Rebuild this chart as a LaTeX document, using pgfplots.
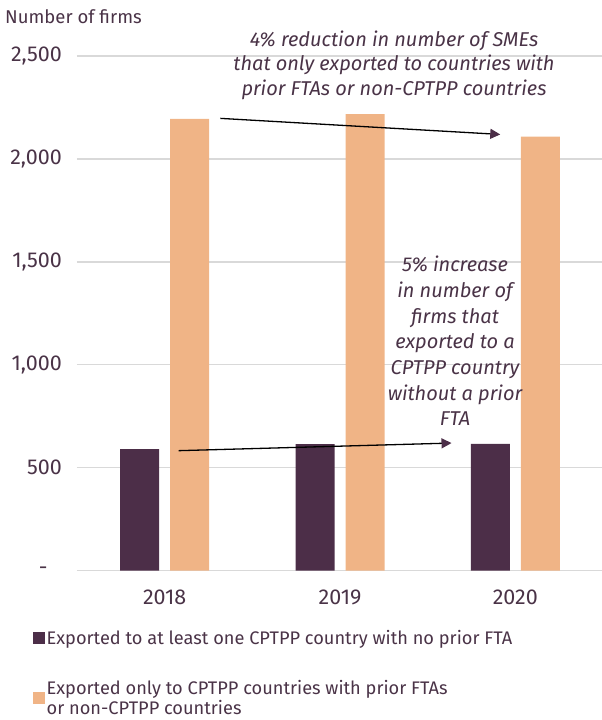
\documentclass[border=0pt]{standalone}
\usepackage{fontspec}
\setmainfont{Fira Sans}
\usepackage{pgfplots}
\pgfplotsset{compat=1.18}
\usetikzlibrary{arrows.meta}
\definecolor{dark}{HTML}{4C2E48}
\definecolor{peach}{HTML}{F0B486}
\definecolor{txt}{HTML}{4A3347}
\definecolor{gridc}{HTML}{D9D9D9}
\begin{document}
\begin{tikzpicture}[x=1pt,y=1pt]
\path[use as bounding box] (0,0) rectangle (602,720);
\begin{axis}[
  at={(77pt,149.3pt)}, anchor=south west,
  scale only axis, width=526pt, height=514.7pt,
  xmin=-0.5, xmax=2.5, ymin=0, ymax=2500,
  axis line style={draw=none},
  ymajorgrids, grid style={gridc, line width=1.3pt},
  ytick={0,500,1000,1500,2000,2500},
  yticklabels={{\makebox[23pt][l]{-}},500,{1,000},{1,500},{2,000},{2,500}},
  xtick={0,1,2}, xticklabels={2018,2019,2020},
  major tick length=0pt,
  tick label style={font=\fontsize{21.5}{24}\selectfont, text=txt},
  yticklabel style={inner sep=0pt, xshift=-15pt},
  xticklabel style={inner sep=0pt, yshift=-19pt},
  /pgf/number format/assume math mode=true,
  ybar=11pt, bar width=39pt,
  legend style={at={(-0.0894,-0.1085)}, anchor=north west, draw=none, fill=none,
    font=\fontsize{18.2}{20}\selectfont, text=txt, legend columns=1,
    row sep=31pt, nodes={align=left, inner sep=1.5pt, font=\fontsize{18.2}{20}\selectfont}},
  legend cell align=left,
  legend image code/.code={\fill[#1] (0pt,-6pt) rectangle (12pt,6pt);},
]
\addplot[fill=dark, draw=none] coordinates {(0,590) (1,615) (2,616)};
\addplot[fill=peach, draw=none] coordinates {(0,2194) (1,2218) (2,2108)};
\legend{Exported to at least one CPTPP country with no prior FTA, {Exported only to CPTPP countries with prior FTAs\\or non-CPTPP countries}}
\draw[black, line width=1.3pt, -{Triangle[length=10pt,width=10pt,color=dark]}] (axis cs:0.318,2197) -- (axis cs:1.914,2119);
\draw[black, line width=1.3pt, -{Triangle[length=10pt,width=10pt,color=dark]}] (axis cs:0.08,583) -- (axis cs:1.636,620);
\end{axis}
\node[anchor=base west, inner sep=0pt, text=txt, font=\fontsize{18.5}{22}\selectfont] at (5,696) {Number of firms};
\node[align=center, inner sep=0pt, text=txt, font=\itshape\fontsize{20}{24.5}\selectfont] at (394,655) {4\% reduction in number of SMEs\\that only exported to countries with\\prior FTAs or non-CPTPP countries};
\node[align=center, inner sep=0pt, text=txt, font=\itshape\fontsize{20}{25.7}\selectfont] at (455,379) {5\% increase\\in number of\\firms that\\exported to a\\CPTPP country\\without a prior\\FTA};
\end{tikzpicture}
\end{document}
